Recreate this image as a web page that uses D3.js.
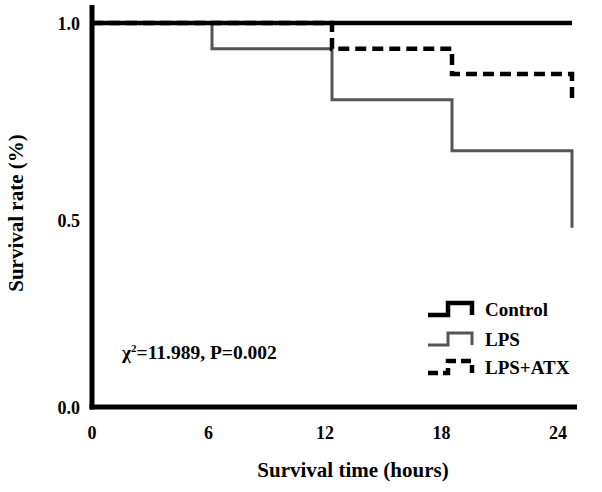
<!DOCTYPE html>
<html lang="en">
<head>
    <meta charset="UTF-8">
    <script src="https://cdn.jsdelivr.net/npm/d3@7"></script>
    <style>
        body { margin: 0; background: #fff; }
        text { font-family: "Liberation Serif", "Times New Roman", serif; font-weight: bold; fill: #000; }
    </style>
</head>
<body>
<div id="chart"></div>
<script>
    // DATA: survival steps (hours, fraction)
    const CONTROL = [[0, 1.0], [24, 1.0]];
    const LPS = [[0, 1.0], [6, 0.933], [12, 0.8], [18, 0.667], [24, 0.467]];
    const LPS_ATX = [[0, 1.0], [12, 0.933], [18, 0.867], [24, 0.8]];
    const X_TICKS = [0, 6, 12, 18, 24];
    const Y_TICKS = [0.0, 0.5, 1.0];
    const SERIES_NAMES = ["Control", "LPS", "LPS+ATX"];

    const WIDTH = 602, HEIGHT = 492;
    const svg = d3.select("#chart").append("svg")
        .attr("width", WIDTH).attr("height", HEIGHT);

    // scales
    const x = d3.scaleLinear().domain([0, 24]).range([92, 572]);
    const y = d3.scaleLinear().domain([0, 1]).range([407, 23]);

    // step line generator
    const line = d3.line()
        .x(d => x(d[0])).y(d => y(d[1]))
        .curve(d3.curveStepAfter);

    const styles = [
        { stroke: "#000", width: 4.5, dash: null },
        { stroke: "#555", width: 3, dash: null },
        { stroke: "#000", width: 4.5, dash: "11,6" }
    ];
    const seriesData = [CONTROL, LPS, LPS_ATX];

    // draw curves (LPS first so black lines sit on top)
    [1, 2, 0].forEach(i => {
        svg.append("path")
            .datum(seriesData[i])
            .attr("d", line)
            .attr("fill", "none")
            .attr("stroke", styles[i].stroke)
            .attr("stroke-width", styles[i].width)
            .attr("stroke-dasharray", styles[i].dash);
    });

    // axes
    svg.append("line")
        .attr("x1", x(0)).attr("x2", x(0))
        .attr("y1", 5).attr("y2", y(0) + 2.5)
        .attr("stroke", "#000").attr("stroke-width", 5);
    svg.append("line")
        .attr("x1", x(0) - 2.5).attr("x2", 577)
        .attr("y1", y(0)).attr("y2", y(0))
        .attr("stroke", "#000").attr("stroke-width", 5);

    // tick labels
    svg.selectAll(".xtick")
        .data(X_TICKS).enter().append("text")
        .attr("x", d => x(d) - (d / 24) * 14)
        .attr("y", 439)
        .attr("text-anchor", "middle")
        .attr("font-size", 18)
        .text(d => d);
    svg.selectAll(".ytick")
        .data(Y_TICKS).enter().append("text")
        .attr("x", 80)
        .attr("y", d => y(d) + 6.5 + (d === 0.5 ? 5 : 0))
        .attr("text-anchor", "end")
        .attr("font-size", 18)
        .text(d => d.toFixed(1));

    // axis titles
    svg.append("text")
        .attr("x", 353).attr("y", 477)
        .attr("text-anchor", "middle")
        .attr("font-size", 21)
        .text("Survival time (hours)");
    svg.append("text")
        .attr("transform", "translate(23,213) rotate(-90)")
        .attr("text-anchor", "middle")
        .attr("font-size", 21)
        .text("Survival rate (%)");

    // annotation
    const ann = svg.append("text")
        .attr("x", 122).attr("y", 359)
        .attr("font-size", 19.5);
    ann.append("tspan").text("χ");
    ann.append("tspan").attr("dy", -7).attr("font-size", 11).text("2");
    ann.append("tspan").attr("dy", 7).text("=11.989, P=0.002");

    // legend
    const legendY = [309, 339, 367];
    SERIES_NAMES.forEach((name, i) => {
        const g = svg.append("g").attr("transform", `translate(428,${legendY[i]})`);
        g.append("path")
            .attr("d", "M0,6 H20 V-6 H44 V6")
            .attr("fill", "none")
            .attr("stroke", styles[i].stroke)
            .attr("stroke-width", styles[i].width)
            .attr("stroke-dasharray", i === 2 ? "10,5" : null);
        g.append("text")
            .attr("x", 57).attr("y", 7)
            .attr("font-size", 19)
            .text(name);
    });
</script>
</body>
</html>
